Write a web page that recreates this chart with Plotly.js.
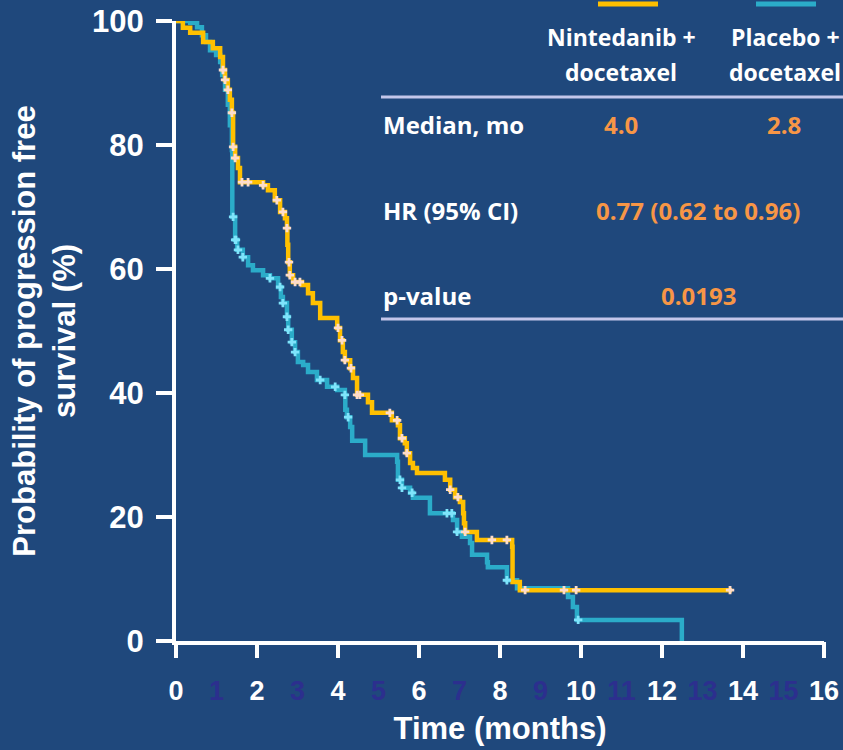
<!DOCTYPE html>
<html>
<head>
<meta charset="utf-8">
<script src="https://cdn.plot.ly/plotly-3.0.1.min.js"></script>
<style>html,body{margin:0;padding:0;background:#1f487c;}#chart{width:843px;height:750px;}</style>
</head>
<body>
<div id="chart"></div>
<script>
// ---- Data ----
const nintTime = [0, 0.17, 0.35, 0.67, 0.91, 1.09, 1.16, 1.21, 1.28, 1.33, 1.38, 1.41, 1.46, 1.53, 1.58, 2.15, 2.27, 2.44, 2.57, 2.69, 2.74, 2.75, 2.77, 2.81, 2.89, 3.11, 3.26, 3.38, 3.56, 3.98, 4.05, 4.12, 4.17, 4.30, 4.37, 4.47, 4.74, 4.84, 5.33, 5.48, 5.53, 5.65, 5.70, 5.78, 5.85, 5.95, 6.64, 6.77, 6.89, 7.01, 7.09, 7.11, 7.14, 7.43, 8.30, 8.31, 8.49, 13.73];
const nintSurv = [100, 98.9, 98.1, 96.6, 95.6, 94.2, 92.1, 90.5, 88.9, 87.3, 85.2, 79.7, 77.9, 76.3, 74.0, 73.5, 72.7, 71.1, 69.2, 68.2, 66.6, 63.9, 61.1, 59.0, 57.9, 57.4, 56.1, 54.5, 52.1, 50.5, 48.5, 46.6, 45.3, 44.0, 42.4, 39.7, 38.5, 36.8, 35.6, 34.8, 32.7, 31.9, 30.3, 28.7, 27.9, 27.1, 26.0, 24.4, 23.2, 22.4, 20.6, 19.0, 17.6, 16.3, 15.2, 9.5, 8.2, 8.2];
const nintCensor = [1.16, 1.21, 1.28, 1.38, 1.41, 1.46, 1.63, 1.78, 2.15, 2.49, 2.64, 2.74, 2.79, 2.81, 2.94, 3.06, 4.0, 4.10, 4.17, 4.32, 4.47, 4.54, 5.28, 5.46, 5.58, 5.70, 6.77, 6.96, 7.14, 7.80, 8.17, 8.62, 9.58, 9.88, 13.68];

const placTime = [0, 0.35, 0.52, 0.64, 0.74, 0.84, 0.99, 1.09, 1.14, 1.21, 1.28, 1.33, 1.38, 1.39, 1.46, 1.51, 1.65, 1.78, 1.90, 2.15, 2.32, 2.52, 2.59, 2.64, 2.74, 2.77, 2.86, 2.94, 3.01, 3.14, 3.26, 3.48, 3.73, 3.98, 4.17, 4.18, 4.22, 4.30, 4.35, 4.67, 5.46, 5.48, 5.58, 5.78, 5.85, 6.27, 6.84, 6.94, 7.06, 7.26, 7.31, 7.68, 7.70, 8.17, 8.42, 9.68, 9.80, 9.90, 12.49];
const placSurv = [100, 99.7, 99.0, 97.7, 96.6, 95.3, 94.5, 93.4, 91.3, 88.9, 86.5, 83.2, 79.2, 68.4, 64.7, 63.1, 61.9, 60.6, 59.8, 59.0, 58.5, 57.1, 55.5, 54.5, 52.3, 50.2, 48.2, 46.6, 45.0, 44.5, 43.4, 42.1, 41.0, 40.5, 39.7, 37.3, 36.1, 34.5, 32.3, 30.0, 28.9, 26.0, 24.7, 23.9, 23.1, 20.6, 19.5, 17.6, 16.8, 15.8, 13.9, 12.7, 11.9, 9.8, 8.5, 7.1, 5.5, 3.4, 0];
const placCensor = [1.41, 1.46, 1.48, 1.53, 1.65, 2.32, 2.57, 2.64, 2.74, 2.77, 2.86, 2.94, 3.56, 3.93, 4.17, 4.25, 5.53, 5.58, 5.83, 6.69, 6.81, 6.94, 8.17, 9.93];

const xTickVals = [0,1,2,3,4,5,6,7,8,9,10,11,12,13,14,15,16];
const xMajorTicks = [0,2,4,6,8,10,12,14,16];
const yTickVals = [0,20,40,60,80,100];

const armNames = ["Nintedanib +<br>docetaxel", "Placebo +<br>docetaxel"];
const medians = ["4.0", "2.8"];
const hrText = "0.77 (0.62 to 0.96)";
const pValue = "0.0193";

// ---- Styling ----
const BG = '#1f487c';
const GOLD = '#ffc000';
const TEAL = '#2bacc9';
const ORANGE = '#f79646';
const ODD = '#2c2f8e';
const AX = 'Liberation Sans, Arial, sans-serif';
const TB = 'Open Sans, sans-serif';

function survAt(times, surv, t) {
  let v = surv[0];
  for (let i = 0; i < times.length; i++) { if (times[i] <= t) v = surv[i]; }
  return v;
}

const traces = [
  {x: placTime, y: placSurv, mode: 'lines', line: {shape: 'hv', color: TEAL, width: 4.5}, hoverinfo: 'skip'},
  {x: nintTime, y: nintSurv, mode: 'lines', line: {shape: 'hv', color: GOLD, width: 4.5}, hoverinfo: 'skip'},
  {x: placCensor, y: placCensor.map(t => survAt(placTime, placSurv, t)), mode: 'markers',
   marker: {symbol: 'cross', size: 7, color: '#7fe4fb', line: {width: 0}}, hoverinfo: 'skip'},
  {x: nintCensor, y: nintCensor.map(t => survAt(nintTime, nintSurv, t)), mode: 'markers',
   marker: {symbol: 'cross', size: 7, color: '#fddccb', line: {width: 0}}, hoverinfo: 'skip'},
  {x: [0], y: [0], xaxis: 'x2', mode: 'markers', marker: {opacity: 0}, hoverinfo: 'skip'}
];

const L = 176, R = 824, T = 21, B = 641;
const px = v => (v - L) / (R - L);
const py = v => (B - v) / (B - T);

const tickText = xTickVals.map(v => v % 2 === 0 ? String(v) : '<span style="color:' + ODD + '">' + v + '</span>');

const ann = [];
function addText(text, x, y, color, anchor, size) {
  ann.push({xref: 'paper', yref: 'paper', x: px(x), y: py(y), text: text, showarrow: false,
            xanchor: anchor || 'center', yanchor: 'middle',
            font: {family: TB, size: size || 24, color: color, weight: 'bold'}});
}
addText(armNames[0].split('<br>')[0], 621, 37, 'white', 'center', 23);
addText(armNames[0].split('<br>')[1], 621, 72, 'white', 'center', 23);
addText(armNames[1].split('<br>')[0], 785, 37, 'white', 'center', 23);
addText(armNames[1].split('<br>')[1], 785, 72, 'white', 'center', 23);
addText('Median, mo', 381, 124, 'white', 'left');
addText(medians[0], 621, 124, ORANGE);
addText(medians[1], 784, 124, ORANGE);
addText('HR (95% CI)', 381, 211, 'white', 'left');
addText(hrText, 698, 211, ORANGE);
addText('p-value', 381, 295, 'white', 'left');
addText(pValue, 698, 295, ORANGE);

const shapes = [
  {type: 'line', xref: 'paper', yref: 'paper', x0: px(598), x1: px(658), y0: py(4), y1: py(4), line: {color: GOLD, width: 5}},
  {type: 'line', xref: 'paper', yref: 'paper', x0: px(756), x1: px(816), y0: py(4), y1: py(4), line: {color: TEAL, width: 5}},
  {type: 'line', xref: 'paper', yref: 'paper', x0: px(381), x1: px(843), y0: py(97), y1: py(97), line: {color: '#c3c6ea', width: 3}},
  {type: 'line', xref: 'paper', yref: 'paper', x0: px(381), x1: px(843), y0: py(319), y1: py(319), line: {color: '#c3c6ea', width: 3}}
];

const layout = {
  width: 843, height: 750,
  paper_bgcolor: BG, plot_bgcolor: BG,
  showlegend: false,
  margin: {l: L, r: 843 - R, t: T, b: 750 - B},
  xaxis: {
    range: [0, 16], tickvals: xTickVals, ticktext: tickText,
    ticks: 'outside', ticklen: 16, tickcolor: 'rgba(0,0,0,0)', tickwidth: 4,
    ticklabelstandoff: 7,
    showline: true, linecolor: 'white', linewidth: 4, showgrid: false, zeroline: false,
    tickfont: {family: AX, size: 27, color: 'white', weight: 'bold'},
    title: {text: 'Time (months)', standoff: 13, font: {family: AX, size: 31, color: 'white', weight: 'bold'}}
  },
  xaxis2: {
    overlaying: 'x', anchor: 'y', side: 'bottom', range: [0, 16],
    tickvals: xMajorTicks, ticks: 'outside', ticklen: 16, tickwidth: 4, tickcolor: 'white',
    showticklabels: false, showline: false, showgrid: false, zeroline: false
  },
  yaxis: {
    range: [0, 100], tickvals: yTickVals,
    ticks: 'outside', ticklen: 16, tickwidth: 4, tickcolor: 'white',
    ticklabelstandoff: 6,
    showline: true, linecolor: 'white', linewidth: 4, showgrid: false, zeroline: false,
    tickfont: {family: AX, size: 31, color: 'white', weight: 'bold'},
    title: {text: 'Probability of progression free<br>survival (%)', standoff: 8,
            font: {family: AX, size: 31, color: 'white', weight: 'bold'}}
  },
  annotations: ann,
  shapes: shapes
};

Plotly.newPlot('chart', traces, layout, {displayModeBar: false, staticPlot: true});
</script>
</body>
</html>
